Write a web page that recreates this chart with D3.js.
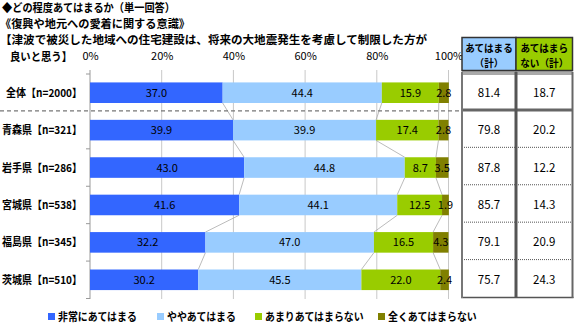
<!DOCTYPE html>
<html><head><meta charset="utf-8">
<script src="https://cdn.jsdelivr.net/npm/d3@7/dist/d3.min.js"></script>
<style>body{margin:0;background:#fff}svg{display:block}text{font-family:"Noto Sans CJK JP","Noto Sans",sans-serif}</style>
</head><body><svg id="c" width="574" height="329"></svg>
<script>
const titles = ["◆どの程度あてはまるか（単一回答）","《復興や地元への愛着に関する意識》","【津波で被災した地域への住宅建設は、将来の大地震発生を考慮して制限した方が","良いと思う】"];
const categories = ["全体【n=2000】","青森県【n=321】","岩手県【n=286】","宮城県【n=538】","福島県【n=345】","茨城県【n=510】"];
const seriesNames = ["非常にあてはまる","ややあてはまる","あまりあてはまらない","全くあてはまらない"];
const s1 = [37.0,39.9,43.0,41.6,32.2,30.2];
const s2 = [44.4,39.9,44.8,44.1,47.0,45.5];
const s3 = [15.9,17.4,8.7,12.5,16.5,22.0];
const s4 = [2.8,2.8,3.5,1.9,4.3,2.4];
const agreeTotal = [81.4,79.8,87.8,85.7,79.1,75.7];
const disagreeTotal = [18.7,20.2,12.2,14.3,20.9,24.3];
const ticks = [0,20,40,60,80,100];
const colors = ["#3366ff","#99ccff","#99cc00","#808000"];

const svg = d3.select("#c");
const x = d3.scaleLinear().domain([0,100]).range([90,448.5]);
const y = d3.scaleBand().domain(categories).range([74,298.5]).paddingInner(0.45).paddingOuter(0.225);

function squeeze(sel, k){ sel.each(function(){ const w=this.getComputedTextLength(); d3.select(this).attr("textLength",w*k).attr("lengthAdjust","spacingAndGlyphs"); }); }

// titles
const tl = [[2,12,173],[0,28,190],[0,44,427],[10,61,62]];
titles.forEach((t,i)=>{
  svg.append("text").attr("x",tl[i][0]).attr("y",tl[i][1]).attr("font-size","11.5px").attr("font-weight","bold")
    .attr("textLength",tl[i][2]).attr("lengthAdjust","spacingAndGlyphs").text(t);
});

// grid
svg.append("g").selectAll("line").data(ticks.slice(1)).join("line")
  .attr("x1",d=>x(d)).attr("x2",d=>x(d)).attr("y1",70).attr("y2",299)
  .attr("stroke","#c8c8c8").attr("stroke-width",1);

// top axis labels
const ax = svg.append("g").attr("transform","translate(0,63)")
  .call(d3.axisTop(x).tickValues(ticks).tickFormat(d=>d+"%").tickSize(0));
ax.select(".domain").remove();
ax.selectAll("text").attr("font-size","11px").attr("fill","#000").attr("dy",0)
  .style("font-family",'"Noto Sans CJK JP",sans-serif');

// left axis line + ticks
svg.append("line").attr("x1",90).attr("x2",90).attr("y1",70).attr("y2",299).attr("stroke","#999");
const bounds = d3.range(categories.length+1).map(i=>y.range()[0]+i*y.step());
svg.append("g").selectAll("line").data(bounds.filter((d,i)=>i!==1)).join("line")
  .attr("x1",86).attr("x2",90).attr("y1",d=>d).attr("y2",d=>d).attr("stroke","#999");

// stacked data
const rows = categories.map((c,i)=>({cat:c, vals:[s1[i],s2[i],s3[i],s4[i]]}));
rows.forEach(r=>{let acc=0; r.segs=r.vals.map((v,k)=>{const s={k,v,x0:acc,x1:acc+v}; acc+=v; return s;});});

// connectors
const conn=[];
for(let i=0;i<rows.length-1;i++){
  for(let k=0;k<3;k++){
    conn.push({xa:rows[i].segs[k].x1, ya:y(rows[i].cat)+y.bandwidth(), xb:rows[i+1].segs[k].x1, yb:y(rows[i+1].cat)});
  }
}
svg.append("g").selectAll("line").data(conn).join("line")
  .attr("x1",d=>x(d.xa)).attr("y1",d=>d.ya).attr("x2",d=>x(d.xb)).attr("y2",d=>d.yb)
  .attr("stroke","#aaa").attr("stroke-width",0.8);

// bars
const g = svg.append("g").selectAll("g").data(rows).join("g");
g.selectAll("rect").data(d=>d.segs.map(s=>({...s,cat:d.cat}))).join("rect")
  .attr("x",d=>x(d.x0)).attr("width",d=>x(d.x1)-x(d.x0))
  .attr("y",d=>y(d.cat)).attr("height",y.bandwidth()).attr("fill",d=>colors[d.k]);
g.selectAll("text").data(d=>d.segs.map(s=>({...s,cat:d.cat}))).join("text")
  .attr("x",d=>x((d.x0+d.x1)/2)).attr("y",d=>y(d.cat)+y.bandwidth()/2+4)
  .attr("text-anchor","middle").attr("font-size","11px").text(d=>d.v.toFixed(1));

// category labels
const cl = svg.append("g").selectAll("text").data(categories).join("text")
  .attr("x",82).attr("y",d=>y(d)+y.bandwidth()/2+4).attr("text-anchor","end")
  .attr("font-size","11px").attr("font-weight","bold").text(d=>d);
let maxW=0; cl.each(function(){maxW=Math.max(maxW,this.getComputedTextLength());});
squeeze(cl, 80/maxW);

// dashed separator
svg.append("line").attr("x1",0).attr("x2",461).attr("y1",bounds[1]-0.5).attr("y2",bounds[1]-0.5)
  .attr("stroke","#777").attr("stroke-width",1.2).attr("stroke-dasharray","4,3");

// table
const cL=462, cM=516, cR=572.5;
const hdr=[{x0:cL,x1:cM,fill:"#99ccff",l:["あてはまる","（計）"]},{x0:cM,x1:cR,fill:"#99cc00",l:["あてはまら","ない（計）"]}];
hdr.forEach(h=>{
  svg.append("rect").attr("x",h.x0).attr("y",37.5).attr("width",h.x1-h.x0).attr("height",33)
    .attr("fill",h.fill).attr("stroke","#333").attr("stroke-width",1.5);
  h.l.forEach((t,j)=>{
    const tx=svg.append("text").attr("x",(h.x0+h.x1)/2).attr("y",52+j*14.5)
      .attr("text-anchor","middle").attr("font-size","10px").attr("font-weight","bold").text(t);
    squeeze(tx, 48/50);
  });
});
const tTop=72, tBot=bounds[bounds.length-1]-1;
svg.append("line").attr("x1",cL).attr("x2",cR).attr("y1",tTop).attr("y2",tTop).attr("stroke","#555").attr("stroke-width",1);
svg.append("line").attr("x1",cL).attr("x2",cR).attr("y1",tTop+2).attr("y2",tTop+2).attr("stroke","#555").attr("stroke-width",1);
bounds.slice(1,-1).forEach((b,i)=>{
  const l=svg.append("line").attr("x1",cL).attr("x2",cR).attr("y1",b-1.5).attr("y2",b-1.5);
  if(i===0) l.attr("stroke","#666").attr("stroke-width",3);
  else l.attr("stroke","#555").attr("stroke-width",1).attr("stroke-dasharray","1,1");
});
svg.append("line").attr("x1",cL-1).attr("x2",cR+1).attr("y1",tBot).attr("y2",tBot).attr("stroke","#555").attr("stroke-width",1.5);
[[cL,"#777",2],[cM,"#555",3],[cR,"#666",2]].forEach(([xx,c,w])=>{
  svg.append("line").attr("x1",xx).attr("x2",xx).attr("y1",tTop).attr("y2",tBot+0.5).attr("stroke",c).attr("stroke-width",w);
});
const cols=[{cx:(cL+cM)/2,vals:agreeTotal},{cx:(cM+cR)/2,vals:disagreeTotal}];
cols.forEach(c=>{
  svg.append("g").selectAll("text").data(categories).join("text")
    .attr("x",c.cx).attr("y",(d,i)=>y(d)+y.bandwidth()/2+4).attr("text-anchor","middle")
    .attr("font-size","11.5px").text((d,i)=>c.vals[i].toFixed(1));
});

// legend
const lx=[48,157,255,378];
const lg=svg.append("g").selectAll("g").data(seriesNames).join("g")
  .attr("transform",(d,i)=>`translate(${lx[i]},313)`);
lg.append("rect").attr("width",7).attr("height",7).attr("fill",(d,i)=>colors[i]);
const lt=lg.append("text").attr("x",10).attr("y",7.5).attr("font-size","11px").attr("font-weight","bold").text(d=>d);
squeeze(lt, 0.9);
</script></body></html>
